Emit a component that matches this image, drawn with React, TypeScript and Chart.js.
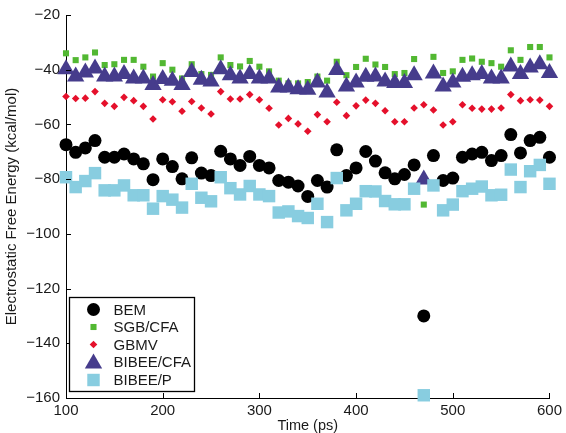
import React, { useEffect, useRef } from "react";
import { Chart, registerables } from "chart.js";

Chart.register(...registerables);

const times = [100, 110, 120, 130, 140, 150, 160, 170, 180, 190, 200, 210, 220, 230, 240, 250, 260, 270, 280, 290, 300, 310, 320, 330, 340, 350, 360, 370, 380, 390, 400, 410, 420, 430, 440, 450, 460, 470, 480, 490, 500, 510, 520, 530, 540, 550, 560, 570, 580, 590, 600];

const bem = [-67.4, -70.2, -68.6, -65.9, -72, -72, -70.8, -72.6, -74.4, -80.2, -72.6, -75.4, -79.9, -72.2, -77.8, -78.7, -69.8, -72.6, -75, -71.7, -75, -75.9, -80.5, -81.1, -82.5, -86.3, -80.5, -82.9, -69.3, -78.7, -75.9, -69.9, -73.4, -77.7, -79.9, -78.3, -74.8, -130, -71.4, -80.5, -79.6, -72, -70.8, -70.2, -73.2, -71.4, -63.7, -70.4, -65.9, -64.7, -72];

const sgbCfa = [-34, -36.5, -35.5, -33.7, -38.3, -38, -36.4, -36.4, -38.9, -42.5, -37.6, -40, -43.2, -38, -41.6, -41.9, -35.5, -38.3, -38.8, -36.8, -38.9, -40.6, -44, -45, -45, -44.5, -42.5, -44, -37.1, -42, -39, -36, -38.1, -39, -41.6, -41.2, -36.1, -89.3, -35.3, -41.2, -40.6, -36.4, -35.9, -37.1, -37.6, -38.9, -32.9, -36.4, -31.7, -31.7, -35.5];

const gbmv = [-49.8, -50.5, -50.4, -48, -52.3, -53.4, -50.1, -51.3, -53.4, -58, -51, -51.7, -55.2, -51.6, -54, -56.2, -48, -50.7, -50.7, -49.1, -51, -54.1, -60.2, -57.8, -59.8, -62.5, -56.4, -59, -51.9, -56.8, -53.2, -51.1, -52.3, -55, -59, -59, -54, -52.8, -54.7, -60.2, -59, -52.8, -54.1, -54.4, -54.4, -54, -49.1, -51.3, -51, -51.1, -53.4];

const bibeeCfa = [-39.8, -42.5, -41, -39.6, -42.5, -42.5, -41.6, -43.2, -43.2, -45.6, -43.4, -44, -45.6, -40.8, -43.7, -44.3, -39.8, -42, -43.2, -41.6, -43.2, -43.2, -46.5, -46.5, -47.1, -47.3, -44.7, -48.3, -40.1, -46.1, -44.7, -42.6, -42.5, -44.3, -44.9, -44.9, -42, -80.1, -41.4, -46.1, -44.7, -42.6, -42, -41.6, -43.2, -43.2, -38.8, -41.6, -39.2, -38, -41.2];

const bibeeP = [-79.3, -82.9, -80.7, -77.8, -84.1, -84.1, -82.3, -85.9, -85.9, -90.8, -86.2, -87.5, -90.4, -81.7, -86.8, -88.1, -79.3, -83.3, -85.6, -82.5, -85.6, -86.2, -92.2, -91.8, -93.5, -94.2, -89, -95.7, -79.6, -91.4, -89, -84.4, -84.5, -88, -89.2, -89.2, -83.5, -159, -82.3, -91.4, -89.3, -84.4, -83.5, -82.7, -85.9, -85.7, -76.5, -82.9, -77.1, -74.8, -81.7];

const seriesNames = ["BEM", "SGB/CFA", "GBMV", "BIBEE/CFA", "BIBEE/P"];
const seriesColors = ["#000000", "#52b832", "#e5102b", "#463c8c", "#88cde0"];
const seriesStyles = ["circle", "rect", "rectRot", "triangle", "rect"];
const seriesRadius = [6.5, 4.3, 3.8, 10, 8.8];

const FONT = "'Liberation Sans', Arial, Helvetica, sans-serif";

function drawMarker(ctx: CanvasRenderingContext2D, style: string, x: number, y: number, r: number, color: string) {
  ctx.fillStyle = color;
  ctx.beginPath();
  if (style === "circle") {
    ctx.arc(x, y, r, 0, Math.PI * 2);
  } else if (style === "rect") {
    const s = Math.SQRT1_2 * r;
    ctx.rect(x - s, y - s, 2 * s, 2 * s);
  } else if (style === "rectRot") {
    ctx.moveTo(x, y - r);
    ctx.lineTo(x + r, y);
    ctx.lineTo(x, y + r);
    ctx.lineTo(x - r, y);
    ctx.closePath();
  } else if (style === "triangle") {
    let rad = 0;
    ctx.moveTo(x + Math.sin(rad) * r, y - Math.cos(rad) * r);
    rad += (2 * Math.PI) / 3;
    ctx.lineTo(x + Math.sin(rad) * r, y - Math.cos(rad) * r);
    rad += (2 * Math.PI) / 3;
    ctx.lineTo(x + Math.sin(rad) * r, y - Math.cos(rad) * r);
    ctx.closePath();
  }
  ctx.fill();
}

const decorPlugin = {
  id: "decor",
  afterDraw(chart: any) {
    const { ctx, chartArea, scales } = chart;
    const xs = scales.x;
    const ys = scales.y;
    ctx.save();
    // inward ticks
    ctx.strokeStyle = "#000";
    ctx.lineWidth = 1;
    ctx.beginPath();
    xs.ticks.forEach((t: any) => {
      const px = Math.round(xs.getPixelForValue(t.value)) + 0.5;
      ctx.moveTo(px, chartArea.bottom);
      ctx.lineTo(px, chartArea.bottom - 5);
    });
    ys.ticks.forEach((t: any) => {
      const py = Math.round(ys.getPixelForValue(t.value)) + 0.5;
      ctx.moveTo(chartArea.left, py);
      ctx.lineTo(chartArea.left + 5, py);
    });
    ctx.stroke();

    // legend box
    const bx = chartArea.left + 3.5;
    const by = 297.5;
    const bw = 125;
    const bh = 94;
    ctx.fillStyle = "#fff";
    ctx.fillRect(bx, by, bw, bh);
    ctx.lineWidth = 1.3;
    ctx.strokeStyle = "#000";
    ctx.strokeRect(bx, by, bw, bh);
    const rowY = [309.5, 327, 344.5, 362, 380];
    ctx.font = "15px " + FONT;
    ctx.textBaseline = "middle";
    ctx.textAlign = "left";
    seriesNames.forEach((name, i) => {
      const my = rowY[i] + (seriesStyles[i] === "triangle" ? 1.5 : 0);
      drawMarker(ctx, seriesStyles[i], bx + 24, my, seriesRadius[i], seriesColors[i]);
      ctx.fillStyle = "#1a1a1a";
      ctx.fillText(name, bx + 44, rowY[i] + 1);
    });
    ctx.restore();
  },
};

export default function App() {
  const ref = useRef<HTMLCanvasElement | null>(null);

  useEffect(() => {
    document.body.style.margin = "0";
    const canvas = ref.current;
    if (!canvas) return;
    const allSeries = [bem, sgbCfa, gbmv, bibeeCfa, bibeeP];
    const datasets = allSeries.map((vals, i) => ({
      label: seriesNames[i],
      data: times.map((t, j) => ({ x: t, y: vals[j] })),
      pointStyle: seriesStyles[i],
      pointRadius: seriesRadius[i],
      pointBackgroundColor: seriesColors[i],
      pointBorderColor: seriesColors[i],
      pointBorderWidth: 0,
      backgroundColor: seriesColors[i],
      borderColor: seriesColors[i],
      showLine: false,
      clip: false as any,
      order: 5 - i,
    }));

    const chart = new Chart(canvas, {
      type: "scatter",
      data: { datasets },
      options: {
        animation: false,
        responsive: false,
        devicePixelRatio: 1,
        layout: { padding: { top: 14, right: 15, left: 0, bottom: 0 } },
        plugins: { legend: { display: false }, tooltip: { enabled: false } },
        scales: {
          x: {
            type: "linear",
            min: 100,
            max: 600,
            afterFit: (s: any) => {
              s.height = 35;
            },
            grid: { display: false, drawTicks: false },
            border: { display: true, color: "#000", width: 1 },
            ticks: {
              stepSize: 100,
              padding: 4,
              color: "#1a1a1a",
              font: { family: FONT, size: 15 },
            },
            title: {
              display: true,
              text: "Time (ps)",
              color: "#1a1a1a",
              font: { family: FONT, size: 14.5, lineHeight: 1 },
              padding: { top: 0, bottom: 0 },
            },
          },
          y: {
            type: "linear",
            min: -160,
            max: -20,
            afterFit: (s: any) => {
              s.width = 66;
            },
            grid: { display: false, drawTicks: false },
            border: { display: true, color: "#000", width: 1 },
            ticks: {
              stepSize: 20,
              padding: 6,
              color: "#1a1a1a",
              font: { family: FONT, size: 15 },
              callback: (v: any) => String(v).replace("-", "\u2212"),
            },
            title: {
              display: true,
              text: "Electrostatic Free Energy (kcal/mol)",
              color: "#1a1a1a",
              font: { family: FONT, size: 15, lineHeight: 1.2 },
              padding: { top: 3, bottom: 0 },
            },
          },
        },
      },
      plugins: [decorPlugin],
    });
    return () => chart.destroy();
  }, []);

  return (
    <div style={{ width: 566, height: 433, background: "#fff" }}>
      <canvas ref={ref} width={566} height={433} style={{ display: "block", width: 566, height: 433 }} />
    </div>
  );
}
